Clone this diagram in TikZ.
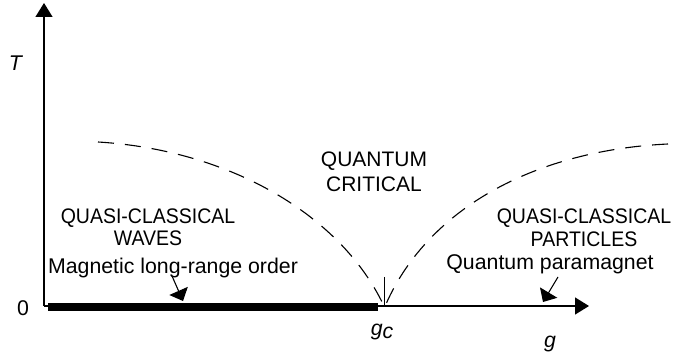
\documentclass[tikz,border=0pt]{standalone}
\usepackage{fontspec}
\setmainfont{Liberation Sans}
\usetikzlibrary{arrows.meta}
\newcommand{\tallcaps}[1]{\scalebox{1}[1.08]{#1}}
\begin{document}
\begin{tikzpicture}[x=1pt,y=-1pt,
  axis/.style={line width=1.3pt,-{Triangle[length=14pt,width=17pt]}},
  lbl/.style={anchor=base,inner sep=0pt,font=\fontsize{21.3}{24}\selectfont},
  captext/.style={anchor=base,inner sep=0pt,font=\fontsize{19.5}{24}\selectfont},
  bigcap/.style={anchor=base,inner sep=0pt,font=\fontsize{21}{24}\selectfont},
  crit/.style={dashed,dash pattern=on 16pt off 11pt,line width=1.1pt},
  pointer/.style={line width=1.1pt,-{Triangle[length=11pt,width=20pt]}}]
\useasboundingbox (0,0) rectangle (680,355);
% axes
\coordinate (O) at (44,306);
\coordinate (Ytip) at (44,3);
\coordinate (Xtip) at (589,306);
\coordinate (C) at (384,306);
\coordinate (Cv) at (384,277);
\coordinate (Lstart) at (48,307);
\coordinate (Lend) at (378,307);
\draw[axis] (O) -- (Ytip);
\draw[axis] (O) -- (Xtip);
\draw[line width=7.5pt] (Lstart) -- (Lend);
\draw[line width=1pt] (Cv) -- (C);
% crossover lines
\coordinate (A) at (98,142);
\coordinate (B) at (668,144);
\coordinate (Cl) at (383,304);
\coordinate (Cr) at (386,304);
\draw[crit] (A) .. controls (230,150) and (340,215) .. (Cl);
\draw[crit] (B) .. controls (540,150) and (430,205) .. (Cr);
% axis labels
\node[lbl] (T) at (16,71) {\textit{T}};
\node[lbl] (zero) at (23,316) {0};
\node[lbl] (gc) at (382,335) {\textit{g}\raisebox{-0.3ex}{\textit{c}}};
\node[lbl] (g) at (550,347) {\textit{g}};
% regions
\node[bigcap] (qc1) at (374,167) {QUANTUM};
\node[bigcap] (qc2) at (374,192) {CRITICAL};
\node[captext] (lw1) at (148,224) {\tallcaps{QUASI-CLASSICAL}};
\node[captext] (lw2) at (148,246) {\tallcaps{WAVES}};
\node[lbl] (lw3) at (173,274) {Magnetic long-range order};
\node[captext] (rp1) at (584,224) {\tallcaps{QUASI-CLASSICAL}};
\node[captext] (rp2) at (584,247) {\tallcaps{PARTICLES}};
\node[lbl] (rp3) at (550,270) {Quantum paramagnet};
\coordinate (la) at (172,276);
\coordinate (lb) at (183,301);
\coordinate (ra) at (558,277);
\coordinate (rb) at (543,302);
\draw[pointer] (la) -- (lb);
\draw[pointer] (ra) -- (rb);
\end{tikzpicture}
\end{document}
